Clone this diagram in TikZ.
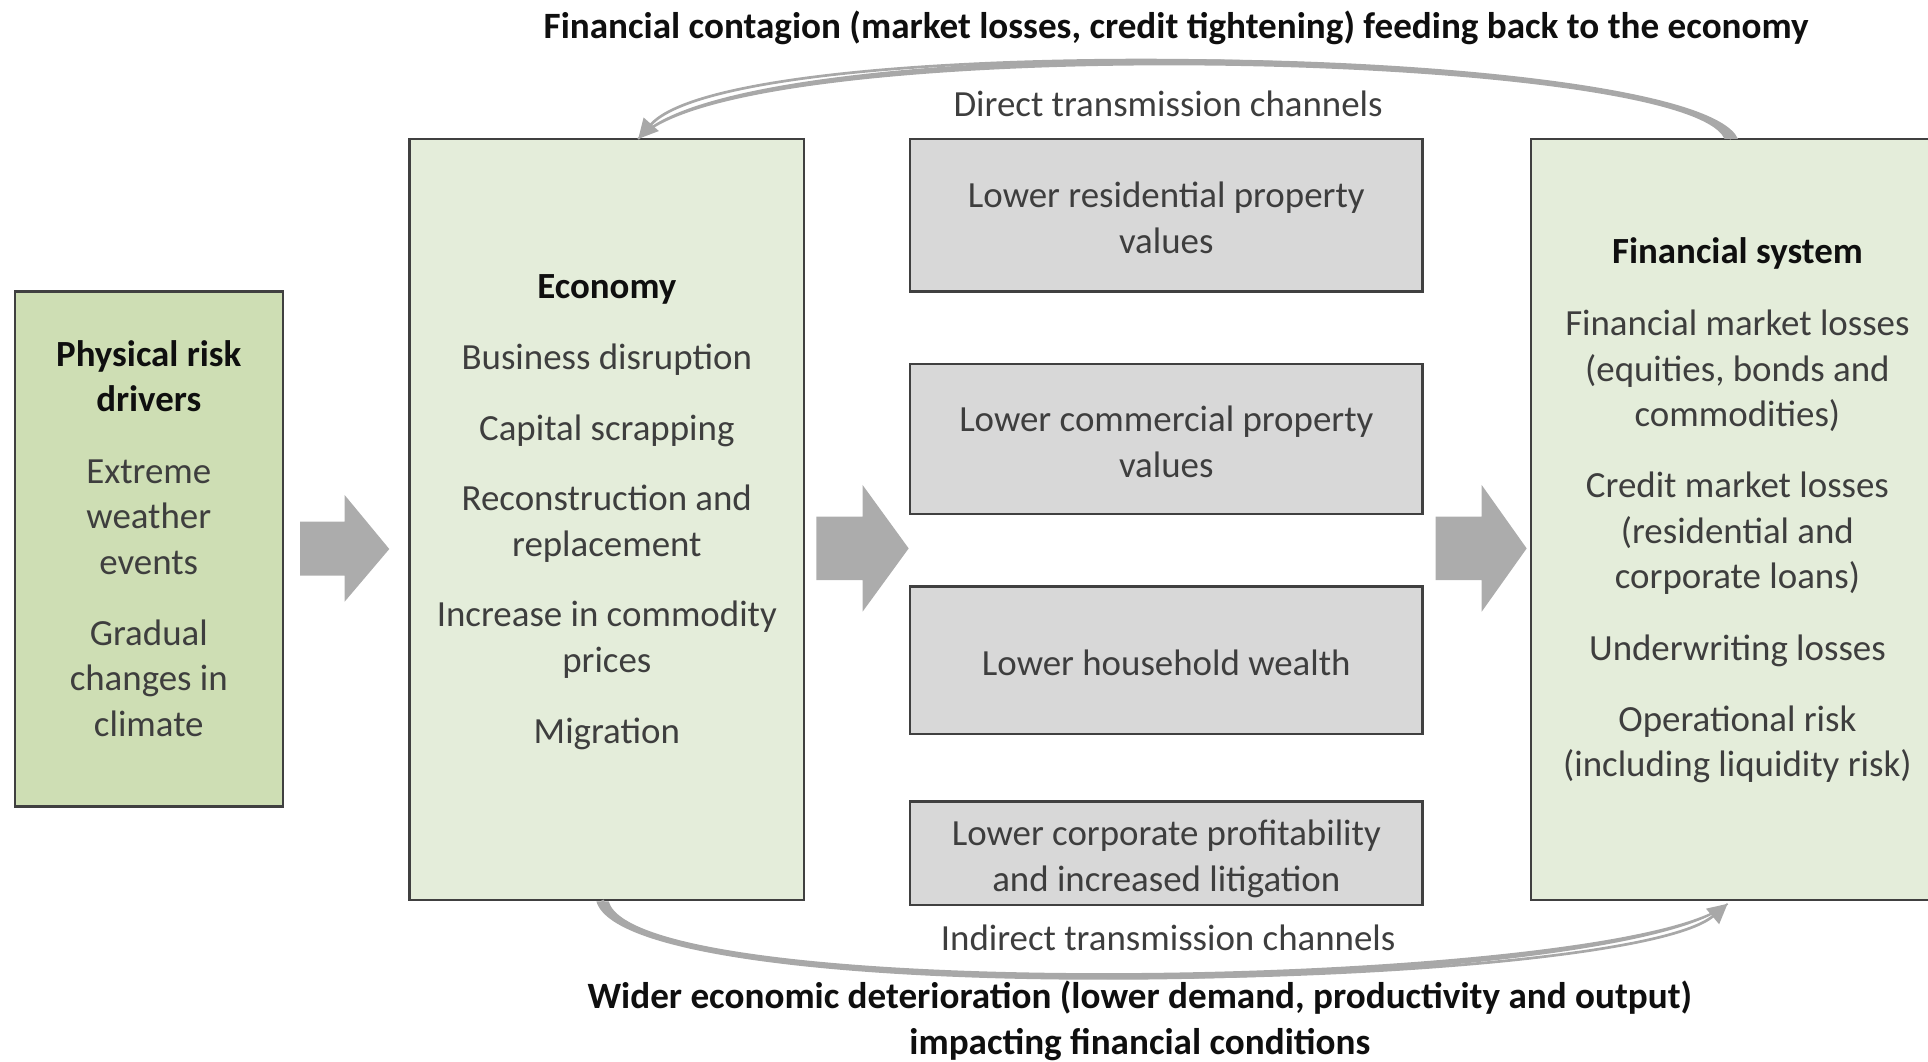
\documentclass[tikz,border=0pt]{standalone}
\usepackage{fontspec}
\setmainfont{Carlito}
\usetikzlibrary{calc,arrows.meta}
\definecolor{dkgreen}{RGB}{206,222,180}
\definecolor{ltgreen}{RGB}{228,237,218}
\definecolor{boxgray}{RGB}{216,216,216}
\definecolor{edgecol}{RGB}{64,64,64}
\definecolor{txtcol}{RGB}{62,62,62}
\definecolor{hdcol}{RGB}{15,15,15}
\definecolor{blockcol}{RGB}{172,172,172}
\definecolor{arccol}{RGB}{168,168,168}
\newcommand\boxhead[1]{{\bfseries\color{hdcol}#1}}
\newcommand\topstrut{\rule{0pt}{18pt}}
\begin{document}
\begin{tikzpicture}[x=0.5pt,y=-0.5pt,
  bodytext/.style={font=\fontsize{15pt}{18.5pt}\selectfont, text=txtcol, align=center, inner sep=0pt, outer sep=0pt},
  titletext/.style={font=\fontsize{15.1pt}{18.5pt}\selectfont\bfseries, text=hdcol, align=center, inner sep=0pt},
  panel/.style={draw=edgecol, line width=1pt, inner sep=0pt, outer sep=0pt},
  arcline/.style={draw=arccol, line width=1.1pt, -{Triangle[length=8pt,width=8pt]}},
  blockarrow/.style={fill=blockcol}
]
\useasboundingbox (0,0) rectangle (1568,863);

% ---------- boxes ----------
\node[panel, fill=dkgreen, minimum width=109pt, minimum height=209.5pt] (phys) at (121,446.5) {};
\node[panel, fill=ltgreen, minimum width=160.5pt, minimum height=309.5pt] (econ) at (493.5,422.5) {};
\node[panel, fill=ltgreen, minimum width=172.5pt, minimum height=309.5pt] (fin) at (1417.5,422.5) {};

\node[panel, bodytext, fill=boxgray, minimum width=208.5pt, minimum height=62pt] (g1) at (948.5,175)
  {\topstrut Lower residential property\\values\strut};
\node[panel, bodytext, fill=boxgray, minimum width=208.5pt, minimum height=61pt] (g2) at (948.5,357)
  {\topstrut Lower commercial property\\values\strut};
\node[panel, bodytext, fill=boxgray, minimum width=208.5pt, minimum height=60pt] (g3) at (948.5,537)
  {\topstrut Lower household wealth\strut};
\node[panel, bodytext, fill=boxgray, minimum width=208.5pt, minimum height=38pt] (g4) at (948.5,694)
  {\topstrut Lower corporate profitability\\and increased litigation\strut};

% ---------- box texts ----------
\node[bodytext, anchor=north] (physT) at (121,272)
  {\strut\boxhead{Physical risk}\\\boxhead{drivers}\\[10.5pt]Extreme\\weather\\events\\[10.5pt]Gradual\\changes in\\climate};
\node[bodytext, anchor=north] (econT) at (493.5,217)
  {\strut\boxhead{Economy}\\[10.25pt]Business disruption\\[10.25pt]Capital scrapping\\[10.25pt]Reconstruction and\\replacement\\[10.25pt]Increase in commodity\\prices\\[10.25pt]Migration};
\node[bodytext, anchor=north] (finT) at (1413,188)
  {\strut\boxhead{Financial system}\\[11pt]Financial market losses\\(equities, bonds and\\commodities)\\[10.5pt]Credit market losses\\(residential and\\corporate loans)\\[10.5pt]Underwriting losses\\[10.5pt]Operational risk\\(including liquidity risk)};

% ---------- titles and channel labels ----------
\node[titletext, anchor=north] (toptitle) at (956.5,5)
  {\strut Financial contagion (market losses, credit tightening) feeding back to the economy};
\node[bodytext, anchor=north] (direct) at (950,69) {\strut Direct transmission channels};
\node[bodytext, anchor=north] (indirect) at (950,747) {\strut Indirect transmission channels};
\node[titletext, anchor=north] (bottitle) at (927,794)
  {\strut Wider economic deterioration (lower demand, productivity and output)\\impacting financial conditions};

% ---------- block arrows ----------
\fill[blockarrow] (244,424.3) -- (280.3,424.3) -- (280.3,402.6) -- (316.6,446.5) -- (280.3,489.3) -- (280.3,468.2) -- (244,468.2) -- cycle;
\fill[blockarrow] (664,420.2) -- (701.5,420.2) -- (701.5,394.4) -- (739,446) -- (701.5,497.5) -- (701.5,471.7) -- (664,471.7) -- cycle;
\fill[blockarrow] (1167.6,420.2) -- (1205,420.2) -- (1205,394.4) -- (1241.6,446) -- (1205,497.5) -- (1205,471.7) -- (1167.6,471.7) -- cycle;

% ---------- feedback arcs ----------
\coordinate (topS) at ($(fin.north west)+(163,0)$);
\coordinate (topT) at ($(econ.north west)+(186,0)$);
\coordinate (botS) at ($(econ.south west)+(157,0)$);
\coordinate (botT) at ($(fin.south west)+(160,3)$);

% tapered bodies
\fill[arccol] (1413.5,113) .. controls (1379,35) and (600,18.5) .. (518.4,112.4)
  -- (519.6,113.6) .. controls (600,25.5) and (1371,41) .. (1402.5,113) -- cycle;
\fill[arccol] (485,733) .. controls (511,825.5) and (1321,809.5) .. (1405.5,735.5)
  -- (1404.5,734.5) .. controls (1321,802.5) and (519,818.5) .. (495,733) -- cycle;

% connectors
\draw[arcline] (topS) .. controls (1375,38) and (600,22) .. (topT);
\draw[arcline] (botS) .. controls (515,822) and (1321,806) .. (botT);
\end{tikzpicture}
\end{document}
